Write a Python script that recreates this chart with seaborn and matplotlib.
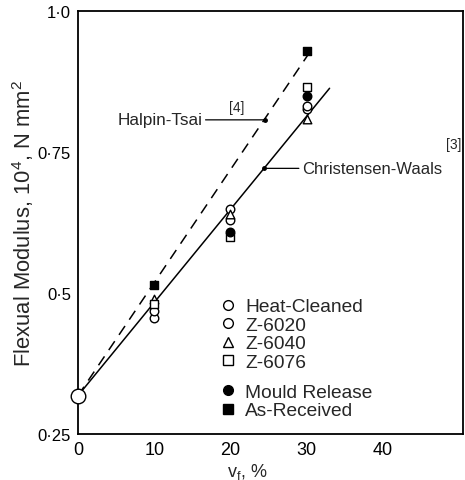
import numpy as np
import pandas as pd
import matplotlib
matplotlib.use("Agg")
import matplotlib.pyplot as plt
from matplotlib.lines import Line2D
import seaborn as sns

# ---- data ----
vf = [10, 20, 30]
heat_cleaned = [0.455, 0.629, 0.826]
z6020 = [0.468, 0.649, 0.832]
z6040 = [0.489, 0.640, 0.809]
z6076 = [0.480, 0.599, 0.866]
mould_release = [np.nan, 0.608, 0.849]
as_received = [0.514, np.nan, 0.929]
matrix_x = [0]
matrix_y = [0.318]

halpin_x = [0, 30.3]
halpin_y = [0.318, 0.925]
cw_x = [0, 33.0]
cw_y = [0.318, 0.863]

series_names = ["Heat-Cleaned", "Z-6020", "Z-6040", "Z-6076", "Mould Release", "As-Received"]
series_vals = [heat_cleaned, z6020, z6040, z6076, mould_release, as_received]
markers = {"Heat-Cleaned": "o", "Z-6020": "o", "Z-6040": "^", "Z-6076": "s",
           "Mould Release": "o", "As-Received": "s"}
faces = {"Heat-Cleaned": "white", "Z-6020": "white", "Z-6040": "white", "Z-6076": "white",
         "Mould Release": "black", "As-Received": "black"}

yticks = [0.25, 0.5, 0.75, 1.0]
ytick_labels = ["0·25", "0·5", "0·75", "1·0"]
xticks = [0, 10, 20, 30, 40]
xtick_labels = ["0", "10", "20", "30", "40"]

sns.set_theme(style="white")
plt.rcParams["font.family"] = ["Liberation Sans", "DejaVu Sans"]
plt.rcParams["mathtext.fontset"] = "custom"
plt.rcParams["mathtext.rm"] = "Liberation Sans"
plt.rcParams["mathtext.it"] = "Liberation Sans"

fig = plt.figure(figsize=(4.65, 4.81), dpi=100)
ax = fig.add_axes([78 / 465, 1 - 435 / 481, 385 / 465, 423 / 481])

# theory lines
lines_df = pd.DataFrame({"x": halpin_x + cw_x, "y": halpin_y + cw_y,
                         "model": ["Halpin-Tsai"] * 2 + ["Christensen-Waals"] * 2})
sns.lineplot(data=lines_df[lines_df.model == "Halpin-Tsai"], x="x", y="y", ax=ax,
             color="black", lw=1.1, linestyle=(0, (7, 5)), legend=False)
sns.lineplot(data=lines_df[lines_df.model == "Christensen-Waals"], x="x", y="y", ax=ax,
             color="black", lw=1.1, legend=False)

# data points
for name, vals in zip(series_names, series_vals):
    d = pd.DataFrame({"vf": vf, "E": vals}).dropna()
    sns.scatterplot(data=d, x="vf", y="E", ax=ax, marker=markers[name], s=38,
                    facecolor=faces[name], edgecolor="black", linewidth=1.0, zorder=3)
sns.scatterplot(x=matrix_x, y=matrix_y, ax=ax, marker="o", s=110,
                facecolor="white", edgecolor="black", linewidth=1.0, zorder=4, clip_on=False)

ax.set_xlim(0, 50.5)
ax.set_ylim(0.25, 1.0)
ax.set_xticks(xticks)
ax.set_xticklabels(xtick_labels, fontsize=13)
ax.set_yticks(yticks)
ax.set_yticklabels(ytick_labels, fontsize=12)
ax.tick_params(direction="in", length=12, width=1.0, colors="black", pad=5)
ax.tick_params(axis="x", length=11)
for sp in ax.spines.values():
    sp.set_color("black")
    sp.set_linewidth(1.3)

ax.set_ylabel(r"Flexual Modulus, $\mathregular{10^4}$, N mm$\mathregular{^2}$", fontsize=15.8)
ax.yaxis.set_label_coords(-0.11, 0.50)
ax.set_xlabel(r"v$\mathregular{_f}$, %", fontsize=13, labelpad=1)
ax.xaxis.set_label_coords(0.44, -0.065)

# annotations
ax.annotate("Halpin-Tsai", xy=(24.5, 0.807), xytext=(16.3, 0.807), fontsize=12.3,
            ha="right", va="center",
            arrowprops=dict(arrowstyle="-", color="black", lw=0.9, shrinkA=0, shrinkB=0))
ax.plot([24.5], [0.807], "o", color="black", ms=2.5)
ax.text(20.8, 0.829, "[4]", fontsize=10, ha="center", va="center")
ax.annotate("Christensen-Waals", xy=(24.4, 0.721), xytext=(29.4, 0.721), fontsize=12,
            ha="left", va="center",
            arrowprops=dict(arrowstyle="-", color="black", lw=0.9, shrinkA=0, shrinkB=0))
ax.plot([24.4], [0.721], "o", color="black", ms=2.5)
ax.text(49.3, 0.765, "[3]", fontsize=10, ha="center", va="center")

# legend (two groups)
def handle(name, ms=7):
    return Line2D([], [], linestyle="none", marker=markers[name], markersize=ms,
                  markerfacecolor=faces[name], markeredgecolor="black", markeredgewidth=1.0)

leg_kw = dict(loc="upper left", frameon=False, fontsize=13.8, handlelength=0.8,
              handletextpad=0.5, labelspacing=0.06, borderpad=0, borderaxespad=0)
h1 = [handle(n) for n in series_names[:4]]
leg1 = ax.legend(h1, series_names[:4], bbox_to_anchor=(0.37, 0.322), **leg_kw)
ax.add_artist(leg1)
h2 = [handle(n) for n in series_names[4:]]
ax.legend(h2, series_names[4:], bbox_to_anchor=(0.37, 0.12), **leg_kw)

fig.savefig("out.png", dpi=100)
